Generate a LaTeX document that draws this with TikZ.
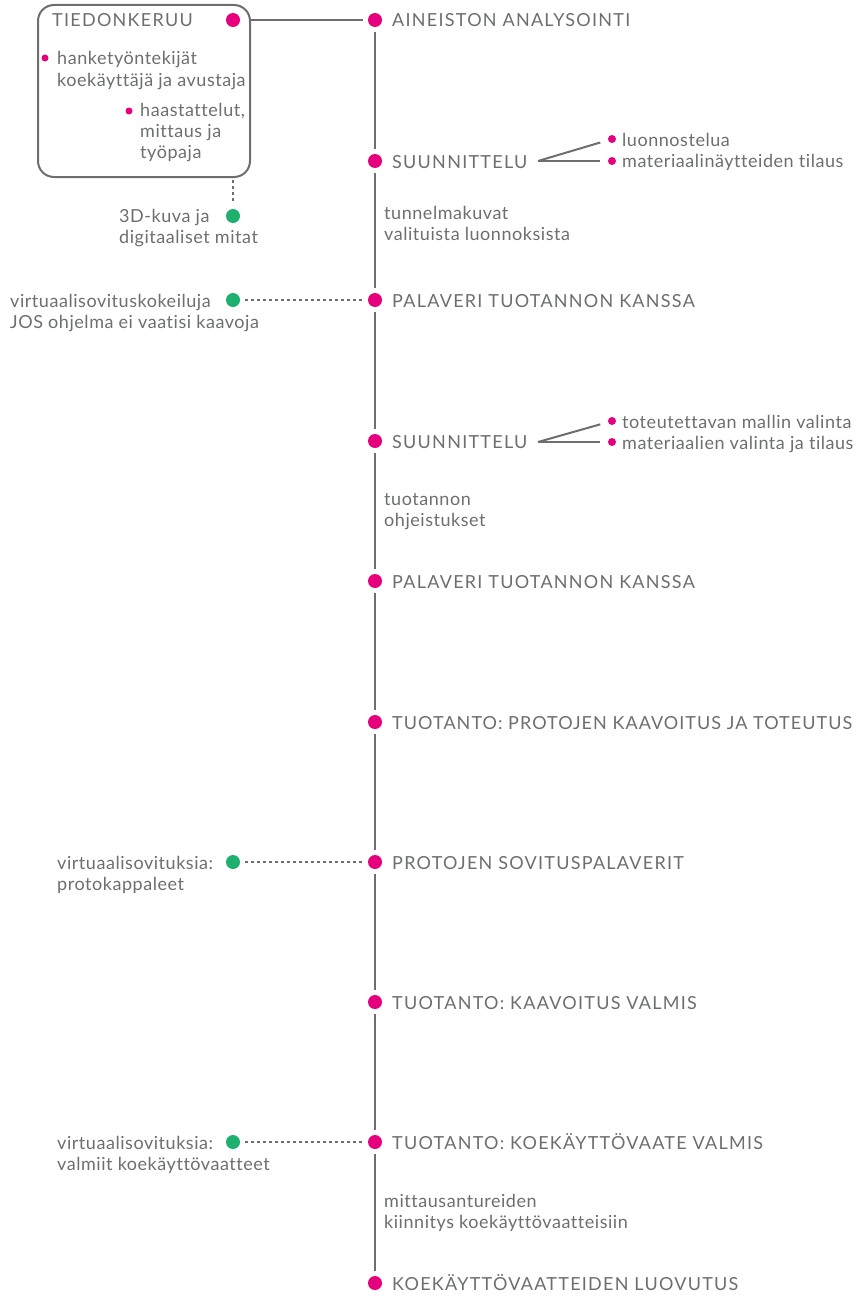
\documentclass[tikz,border=0pt]{standalone}
\usepackage{fontspec}
\setmainfont[LetterSpace=3, Ligatures=NoCommon]{Lato}
\newfontfamily\capsfont[LetterSpace=7, Ligatures=NoCommon]{Lato}
\newfontfamily\capstight[LetterSpace=5.8, Ligatures=NoCommon]{Lato}
\usetikzlibrary{calc}
\definecolor{ink}{HTML}{6D6E71}
\definecolor{pink}{HTML}{E6007E}
\definecolor{leaf}{HTML}{1DB06F}
\newcommand{\txtlines}[1]{\begin{tabular}[t]{@{}l@{}}#1\end{tabular}}
\tikzset{
  bigdot/.style={circle, fill=pink, inner sep=0pt, minimum size=14pt},
  greendot/.style={circle, fill=leaf, inner sep=0pt, minimum size=14pt},
  smalldot/.style={circle, fill=pink, inner sep=0pt, minimum size=8pt},
  lbl/.style={anchor=base west, inner sep=0pt, text=ink, font=\fontsize{18}{21}\selectfont},
  head/.style={lbl, font=\fontsize{18}{21}\selectfont\capsfont},
  spine/.style={draw=ink, line width=2pt, shorten <=5pt, shorten >=5pt},
  branch/.style={draw=ink, line width=2pt, shorten >=8pt},
  link/.style={draw=ink, line width=1.6pt, dash pattern=on 3pt off 3pt, shorten <=5pt, shorten >=6pt},
}
\begin{document}
\begin{tikzpicture}[x=1pt, y=-1pt]
\useasboundingbox (0,0) rectangle (857,1298);

% timeline milestones
\foreach \n/\y in {1/20, 2/161, 3/300, 4/441, 5/581, 6/722, 7/862, 8/1002, 9/1142, 10/1283}
  \node[bigdot] (d\n) at (375,\y) {};

\node[head] (l1) at (392,27) {AINEISTON ANALYSOINTI};
\node[head] (l2) at (392,168) {SUUNNITTELU};
\node[head] (l3) at (392,307) {PALAVERI TUOTANNON KANSSA};
\node[head] (l4) at (392,448) {SUUNNITTELU};
\node[head] (l5) at (392,588) {PALAVERI TUOTANNON KANSSA};
\node[head, font=\fontsize{18}{21}\selectfont\capstight] (l6) at (392,729) {TUOTANTO: PROTOJEN KAAVOITUS JA TOTEUTUS};
\node[head] (l7) at (392,869) {PROTOJEN SOVITUSPALAVERIT};
\node[head] (l8) at (392,1009) {TUOTANTO: KAAVOITUS VALMIS};
\node[head] (l9) at (392,1149) {TUOTANTO: KOEKÄYTTÖVAATE VALMIS};
\node[head] (l10) at (392,1290) {KOEKÄYTTÖVAATTEIDEN LUOVUTUS};

\foreach \a/\b in {1/2, 2/3, 3/4, 4/5, 5/6, 6/7, 7/8, 8/9, 9/10}
  \draw[spine] (d\a) -- (d\b);

% notes between milestones
\node[lbl] (n1) at (384,219) {\txtlines{tunnelmakuvat\\valituista luonnoksista}};
\node[lbl] (n2) at (384,505) {\txtlines{tuotannon\\ohjeistukset}};
\node[lbl] (n3) at (384,1207) {\txtlines{mittausantureiden\\kiinnitys koekäyttövaatteisiin}};

% data collection box
\node[draw=ink, line width=2pt, rounded corners=16pt, anchor=north west,
      minimum width=212pt, minimum height=172pt, inner sep=0pt] (box) at (37,4) {};
\node[bigdot] (bd) at (233,20) {};
\node[head] (bt) at (52,27) {TIEDONKERUU};
\node[smalldot, minimum size=7pt] (bs1) at (45,58) {};
\node[lbl] (bx1) at (57,65) {\txtlines{hanketyöntekijät\\koekäyttäjä ja avustaja}};
\node[smalldot, minimum size=7pt] (bs2) at (129,111) {};
\node[lbl] (bx2) at (140,116) {\txtlines{haastattelut,\\mittaus ja\\työpaja}};
\draw[draw=ink, line width=2pt, shorten >=5pt] (box.east |- d1) -- (d1);

% 3D scan below the box
\node[greendot] (g1) at (233,216) {};
\node[lbl] (gt1) at (119,222) {\txtlines{3D-kuva ja\\digitaaliset mitat}};
\draw[link, shorten <=2pt] (bd |- box.south) -- (g1);

% virtual fitting side notes
\node[greendot] (g2) at (233,300) {};
\node[lbl] (gt2) at (10,307) {\txtlines{virtuaalisovituskokeiluja\\JOS ohjelma ei vaatisi kaavoja}};
\draw[link] (g2) -- (d3);

\node[greendot] (g3) at (233,862) {};
\node[lbl] (gt3) at (57,869) {\txtlines{virtuaalisovituksia:\\protokappaleet}};
\draw[link] (g3) -- (d7);

\node[greendot] (g4) at (233,1142) {};
\node[lbl] (gt4) at (57,1149) {\txtlines{virtuaalisovituksia:\\valmiit koekäyttövaatteet}};
\draw[link] (g4) -- (d9);

% design branches
\coordinate (f2) at (538,161);
\node[smalldot] (b1) at (612,139) {};
\node[smalldot] (b2) at (612,161) {};
\node[lbl] (bl1) at (622,146) {luonnostelua};
\node[lbl] (bl2) at (622,167) {materiaalinäytteiden tilaus};
\draw[branch] (f2) -- (b1);
\draw[branch] (f2) -- (b2);

\coordinate (f4) at (538,442);
\node[smalldot] (b3) at (612,421) {};
\node[smalldot] (b4) at (612,442) {};
\node[lbl] (bl3) at (622,428) {toteutettavan mallin valinta};
\node[lbl] (bl4) at (622,449) {materiaalien valinta ja tilaus};
\draw[branch] (f4) -- (b3);
\draw[branch] (f4) -- (b4);
\end{tikzpicture}
\end{document}
